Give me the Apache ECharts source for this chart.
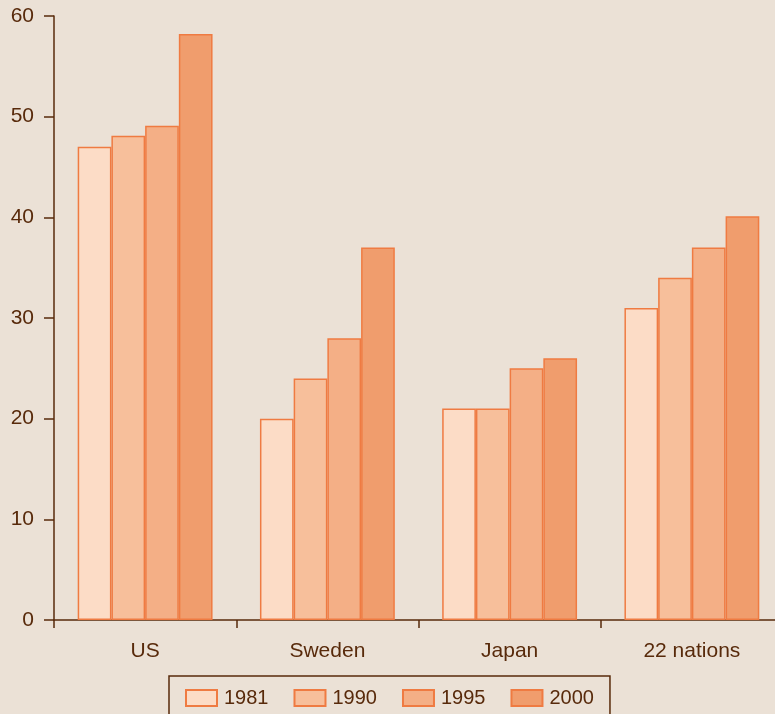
<!DOCTYPE html>
<html>
<head>
<meta charset="utf-8">
<script src="https://cdn.jsdelivr.net/npm/echarts@6/dist/echarts.min.js"></script>
<style>
  html, body { margin: 0; padding: 0; background: #ebe1d6; }
  #chart { width: 775px; height: 714px; }
</style>
</head>
<body>
<div id="chart"></div>
<script>
// Categories and per-year values
const categories = ['US', 'Sweden', 'Japan', '22 nations'];
const years = ['1981', '1990', '1995', '2000'];
const values1981 = [47.0, 20.0, 21.0, 31.0];
const values1990 = [48.1, 24.0, 21.0, 34.0];
const values1995 = [49.1, 28.0, 25.0, 37.0];
const values2000 = [58.2, 37.0, 26.0, 40.1];
const yTicks = [0, 10, 20, 30, 40, 50, 60];

const seriesValues = [values1981, values1990, values1995, values2000];
const fills = ['#fcdcc6', '#f7bf9b', '#f4af86', '#f09d6d'];
const edge = '#ef7b42';
const ink = '#582a0b';
const font = '"Liberation Sans", Arial, Helvetica, sans-serif';

const chart = echarts.init(document.getElementById('chart'), null, { renderer: 'canvas' });

chart.setOption({
  backgroundColor: '#ebe1d6',
  animation: false,
  textStyle: { fontFamily: font, color: ink },
  // plot area runs slightly past the right edge of the canvas
  grid: { left: 54, width: 729, top: 16, bottom: 94, containLabel: false, outerBoundsMode: 'none' },
  legend: {
    data: years,
    icon: 'rect',
    left: 169,
    top: 676,
    orient: 'horizontal',
    itemWidth: 31,
    itemHeight: 16,
    itemGap: 25,
    padding: [12, 16, 20, 16],
    borderColor: ink,
    borderWidth: 1.5,
    textStyle: { fontFamily: font, fontSize: 20, color: ink, padding: [0, 0, 0, 2] }
  },
  xAxis: {
    type: 'category',
    data: categories,
    boundaryGap: true,
    axisLine: { lineStyle: { color: ink, width: 1.5 } },
    axisTick: { show: true, length: 8, lineStyle: { color: ink, width: 1.5 } },
    axisLabel: { fontFamily: font, fontSize: 21, color: ink, margin: 21 }
  },
  yAxis: {
    type: 'value',
    min: yTicks[0],
    max: yTicks[yTicks.length - 1],
    interval: 10,
    splitLine: { show: false },
    axisLine: { show: true, lineStyle: { color: ink, width: 1.5 } },
    axisTick: { show: true, length: 10, lineStyle: { color: ink, width: 1.5 } },
    axisLabel: { fontFamily: font, fontSize: 21, color: ink, margin: 20 }
  },
  series: years.map((y, i) => ({
    name: y,
    type: 'bar',
    data: seriesValues[i],
    barGap: '0%',
    barCategoryGap: '26%',
    itemStyle: { color: fills[i], borderColor: edge, borderWidth: 1.5 }
  }))
});
</script>
</body>
</html>
